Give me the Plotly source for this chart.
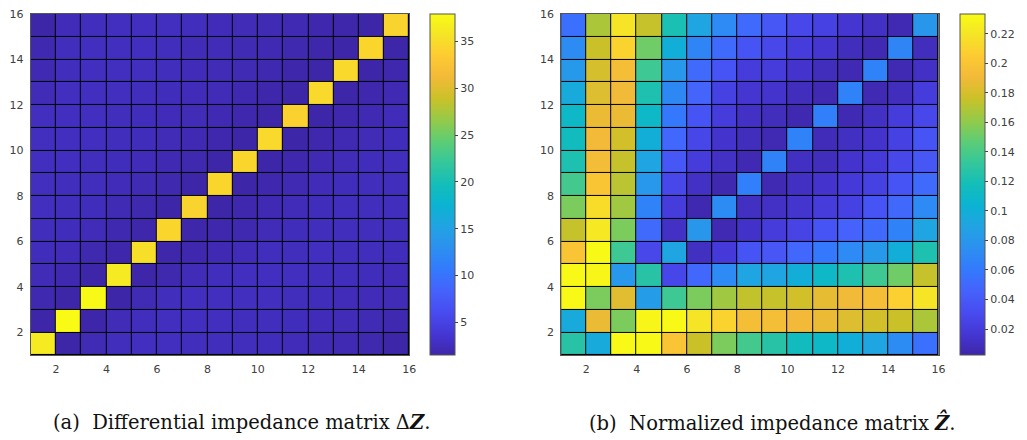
import plotly.graph_objects as go

W, H = 1027, 440

# ---------------- data ----------------
cells = list(range(1, 16))            # cell index (1..15), cells span [i, i+1]
axis_ticks = [2, 4, 6, 8, 10, 12, 14, 16]

# Differential impedance matrix (rows: y = 1 .. 15, cols: x = 1 .. 15)
dz_rows = [
    [36.3, 1.6, 2.2, 2.6, 2.7, 2.7, 2.6, 2.6, 2.6, 2.5, 2.4, 2.2, 2.1, 1.9, 1.6],
    [1.6, 37.9, 1.5, 2.3, 2.6, 2.7, 2.7, 2.7, 2.6, 2.6, 2.5, 2.4, 2.3, 2.2, 2.0],
    [2.0, 1.5, 37.7, 1.6, 2.2, 2.6, 2.7, 2.7, 2.7, 2.7, 2.6, 2.5, 2.4, 2.4, 2.3],
    [2.3, 2.0, 1.6, 36.3, 1.6, 1.9, 2.3, 2.6, 2.7, 2.7, 2.7, 2.6, 2.6, 2.5, 2.4],
    [2.5, 2.4, 1.9, 1.7, 35.3, 1.7, 1.8, 2.1, 2.4, 2.6, 2.6, 2.7, 2.6, 2.6, 2.5],
    [2.6, 2.5, 2.4, 2.0, 1.7, 34.5, 1.7, 1.8, 2.0, 2.3, 2.5, 2.6, 2.6, 2.6, 2.6],
    [2.7, 2.6, 2.5, 2.2, 1.9, 1.6, 34.3, 1.6, 1.8, 2.1, 2.4, 2.5, 2.6, 2.6, 2.6],
    [2.7, 2.6, 2.6, 2.4, 2.2, 1.9, 1.6, 34.5, 1.6, 1.8, 2.1, 2.4, 2.5, 2.6, 2.6],
    [2.7, 2.7, 2.6, 2.5, 2.4, 2.1, 1.9, 1.6, 34.5, 1.6, 1.8, 2.1, 2.3, 2.5, 2.6],
    [2.7, 2.7, 2.7, 2.6, 2.5, 2.3, 2.1, 1.8, 1.6, 34.7, 1.6, 1.8, 2.1, 2.3, 2.5],
    [2.7, 2.7, 2.7, 2.6, 2.5, 2.4, 2.3, 2.1, 1.8, 1.6, 34.0, 1.6, 1.8, 2.1, 2.4],
    [2.3, 2.7, 2.7, 2.7, 2.6, 2.5, 2.4, 2.3, 2.0, 1.7, 1.6, 34.7, 1.6, 1.8, 2.1],
    [2.1, 2.6, 2.7, 2.7, 2.7, 2.6, 2.4, 2.3, 2.2, 2.0, 1.7, 1.6, 34.7, 1.6, 1.8],
    [2.0, 2.6, 2.7, 2.7, 2.7, 2.6, 2.3, 2.3, 2.2, 2.1, 1.9, 1.7, 1.6, 34.5, 1.6],
    [1.6, 2.4, 2.6, 2.7, 2.7, 2.7, 2.6, 2.4, 2.3, 2.2, 2.1, 1.8, 1.7, 1.6, 34.3],
]
dz_range = [1.54, 37.93]
dz_ticks = [5, 10, 15, 20, 25, 30, 35]

# Normalized impedance matrix (rows: y = 1 .. 15, cols: x = 1 .. 15)
zn_rows = [
    [0.127, 0.096, 0.232, 0.232, 0.200, 0.176, 0.155, 0.138, 0.127, 0.115, 0.110, 0.100, 0.091, 0.072, 0.054],
    [0.096, 0.188, 0.155, 0.230, 0.232, 0.220, 0.210, 0.194, 0.194, 0.191, 0.188, 0.183, 0.179, 0.176, 0.168],
    [0.232, 0.155, 0.184, 0.084, 0.136, 0.155, 0.165, 0.174, 0.175, 0.179, 0.186, 0.190, 0.194, 0.208, 0.220],
    [0.232, 0.230, 0.081, 0.127, 0.027, 0.049, 0.071, 0.091, 0.091, 0.099, 0.110, 0.123, 0.136, 0.152, 0.175],
    [0.200, 0.232, 0.136, 0.028, 0.091, 0.011, 0.019, 0.037, 0.038, 0.049, 0.060, 0.071, 0.082, 0.099, 0.123],
    [0.175, 0.222, 0.155, 0.051, 0.012, 0.080, 0.006, 0.013, 0.020, 0.025, 0.037, 0.046, 0.051, 0.066, 0.091],
    [0.155, 0.215, 0.165, 0.066, 0.020, 0.005, 0.072, 0.011, 0.012, 0.015, 0.020, 0.024, 0.037, 0.050, 0.071],
    [0.138, 0.200, 0.172, 0.081, 0.028, 0.012, 0.005, 0.064, 0.006, 0.011, 0.014, 0.019, 0.024, 0.037, 0.051],
    [0.123, 0.193, 0.175, 0.091, 0.039, 0.020, 0.012, 0.006, 0.066, 0.011, 0.009, 0.014, 0.019, 0.028, 0.039],
    [0.115, 0.191, 0.179, 0.099, 0.049, 0.027, 0.014, 0.009, 0.006, 0.066, 0.008, 0.011, 0.014, 0.024, 0.037],
    [0.110, 0.188, 0.188, 0.110, 0.060, 0.037, 0.020, 0.012, 0.009, 0.005, 0.064, 0.006, 0.012, 0.020, 0.028],
    [0.096, 0.183, 0.190, 0.123, 0.070, 0.047, 0.024, 0.016, 0.014, 0.009, 0.006, 0.066, 0.006, 0.009, 0.020],
    [0.082, 0.180, 0.194, 0.136, 0.081, 0.051, 0.037, 0.020, 0.020, 0.014, 0.009, 0.006, 0.066, 0.006, 0.012],
    [0.072, 0.176, 0.210, 0.152, 0.100, 0.068, 0.051, 0.037, 0.028, 0.020, 0.016, 0.009, 0.006, 0.068, 0.009],
    [0.054, 0.168, 0.220, 0.175, 0.121, 0.091, 0.071, 0.051, 0.039, 0.028, 0.024, 0.016, 0.012, 0.006, 0.080],
]
zn_range = [0.0025, 0.2334]
zn_ticks = [0.02, 0.04, 0.06, 0.08, 0.1, 0.12, 0.14, 0.16, 0.18, 0.2, 0.22]
zn_ticklabels = ["0.02", "0.04", "0.06", "0.08", "0.1", "0.12", "0.14", "0.16", "0.18", "0.2", "0.22"]

captions = ["(a)  Differential impedance matrix \u0394<b><i>Z</i></b>.",
            "(b)  Normalized impedance matrix <b><i>\u1E90</i></b>."]

# parula (MATLAB R2017a+) sampled every 16 entries
parula_pts = [
    (0.2422, 0.1504, 0.6603), (0.2704, 0.2138, 0.8346), (0.2813, 0.2985, 0.9397),
    (0.2710, 0.3860, 0.9898), (0.2006, 0.4803, 0.9906), (0.1716, 0.5655, 0.9393),
    (0.1288, 0.6408, 0.8910), (0.0433, 0.7039, 0.8242), (0.0770, 0.7468, 0.7224),
    (0.2061, 0.7808, 0.6065), (0.3671, 0.8021, 0.4563), (0.5886, 0.7913, 0.2833),
    (0.7945, 0.7554, 0.1570), (0.9523, 0.7284, 0.2237), (0.9938, 0.7974, 0.1974),
    (0.9601, 0.8963, 0.1507), (0.9769, 0.9839, 0.0805),
]
idx = [0, 16, 32, 48, 64, 80, 96, 112, 128, 144, 160, 176, 192, 208, 224, 240, 255]
parula = [[i / 255, "rgb(%d,%d,%d)" % tuple(round(c * 255) for c in p)] for i, p in zip(idx, parula_pts)]

# ---------------- layout helpers ----------------
def px_x(x):
    return x / W

def px_y(y):
    return 1 - y / H

TOP, BOT = 8, 354
CB_PAD = 10
panels = [
    dict(z=dz_rows, rng=dz_range, ax=(31, 412), cb=433, tv=dz_ticks, tt=[str(t) for t in dz_ticks]),
    dict(z=zn_rows, rng=zn_range, ax=(565, 945), cb=967, tv=zn_ticks, tt=zn_ticklabels),
]

fig = go.Figure()
axis_font = dict(family="DejaVu Sans", size=11, color="#404040")

for k, p in enumerate(panels):
    xa = "x" if k == 0 else "x2"
    ya = "y" if k == 0 else "y2"
    centers = [c + 0.5 for c in cells]
    fig.add_trace(go.Heatmap(
        z=p["z"], x=centers, y=centers,
        colorscale=parula, zmin=p["rng"][0], zmax=p["rng"][1],
        xgap=1, ygap=1, xaxis=xa, yaxis=ya, hoverinfo="skip",
        colorbar=dict(
            x=px_x(p["cb"] - CB_PAD), xanchor="left", xref="paper", xpad=CB_PAD,
            y=px_y(TOP), yanchor="top", len=(BOT - TOP) / H, lenmode="fraction", ypad=0,
            thickness=25, thicknessmode="pixels",
            outlinecolor="#555555", outlinewidth=1,
            tickvals=p["tv"], ticktext=p["tt"], ticks="outside", ticklen=3,
            tickcolor="#404040", tickfont=dict(family="DejaVu Sans", size=11, color="#404040"),
        ),
    ))
    axcommon = dict(range=[1, 16], tickvals=axis_ticks, ticktext=[str(t) for t in axis_ticks],
                    ticks="", showgrid=False, zeroline=False, showline=True,
                    linecolor="#555555", linewidth=1, mirror=True, tickfont=axis_font)
    xname = "xaxis" if k == 0 else "xaxis2"
    yname = "yaxis" if k == 0 else "yaxis2"
    fig.update_layout(**{
        xname: dict(domain=[px_x(p["ax"][0]), px_x(p["ax"][1])], anchor=ya, ticklabelstandoff=4, **axcommon),
        yname: dict(domain=[px_y(BOT), px_y(TOP)], anchor=xa, ticklabelstandoff=4, **axcommon),
    })

for k, (cx, text) in enumerate(zip([243, 778], captions)):
    fig.add_annotation(x=px_x(cx), y=px_y(422), xref="paper", yref="paper",
                       text=text, showarrow=False, xanchor="center", yanchor="middle",
                       font=dict(family="DejaVu Serif", size=19.5, color="#111111"))

fig.update_layout(
    width=W, height=H, margin=dict(l=0, r=0, t=0, b=0),
    paper_bgcolor="white", plot_bgcolor="black",
)

fig.write_html("out.html", config={"displayModeBar": False},
               post_script="document.body.style.margin='0';document.body.style.padding='0';")
